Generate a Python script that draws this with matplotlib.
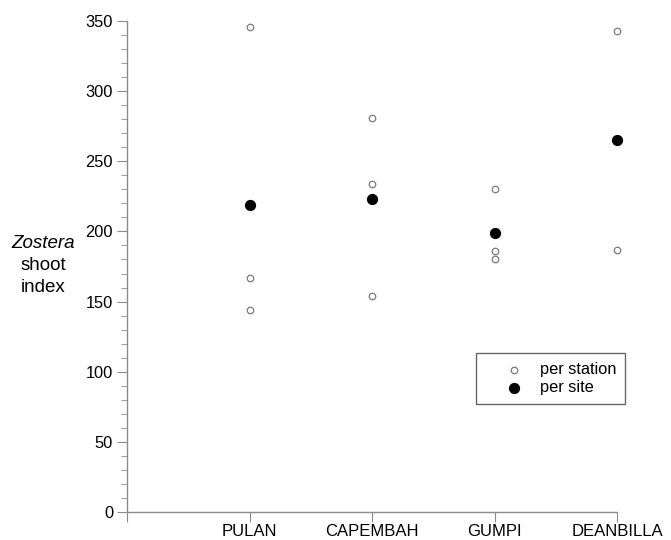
import matplotlib
matplotlib.use("Agg")
import matplotlib.pyplot as plt
from matplotlib.ticker import MultipleLocator

plt.rcParams['font.family'] = ['Liberation Sans', 'DejaVu Sans']

sites = ["PULAN", "CAPEMBAH", "GUMPI", "DEANBILLA"]
station_values = [
    [346, 167, 144],
    [281, 234, 154],
    [230, 186, 180],
    [343, 187],
]
site_values = [219, 223, 199, 265]

fig = plt.figure(figsize=(6.71, 5.40), dpi=100)
ax = fig.add_axes([127/671, 28/540, 490/671, 491/540])

grey = "#8c8c8c"
xs_st, ys_st = [], []
for i, vals in enumerate(station_values):
    for v in vals:
        xs_st.append(i + 1)
        ys_st.append(v)
ax.scatter(xs_st, ys_st, s=22, facecolors="white", edgecolors="#7a7a7a",
           linewidths=0.9, zorder=3, label="per station")
ax.scatter(range(1, len(sites) + 1), site_values, s=50, color="black",
           zorder=4, label="per site")

ax.set_xlim(0, 4)
ax.set_ylim(0, 350)
ax.set_xticks(range(0, len(sites) + 1))
ax.set_xticklabels([""] + sites, fontsize=12)
ax.yaxis.set_major_locator(MultipleLocator(50))
ax.yaxis.set_minor_locator(MultipleLocator(10))
ax.tick_params(axis="y", which="major", length=7, color=grey, labelsize=11.8, pad=3)
ax.tick_params(axis="y", which="minor", length=4, color=grey)
ax.tick_params(axis="x", which="major", length=7, color=grey, labelsize=12, pad=2)
for side in ["top", "right"]:
    ax.spines[side].set_visible(False)
for side in ["left", "bottom"]:
    ax.spines[side].set_color(grey)
    ax.spines[side].set_linewidth(1.0)
for coll in ax.collections:
    coll.set_clip_on(False)

leg = ax.legend(loc="upper left", bbox_to_anchor=((476-127)/490, (512-353)/491),
                frameon=True, fancybox=False, fontsize=11.8, handletextpad=-0.15,
                borderpad=0.55, labelspacing=0.2, handlelength=3.5,
                borderaxespad=0)
leg.get_frame().set_edgecolor("#404040")
leg.get_frame().set_linewidth(1.0)

fig.text(43/671, 1 - 243/540, "Zostera", style="italic", fontsize=13.5, ha="center", va="center")
fig.text(43/671, 1 - 265/540, "shoot", fontsize=13.5, ha="center", va="center")
fig.text(43/671, 1 - 287/540, "index", fontsize=13.5, ha="center", va="center")

fig.savefig("out.png", dpi=100)
